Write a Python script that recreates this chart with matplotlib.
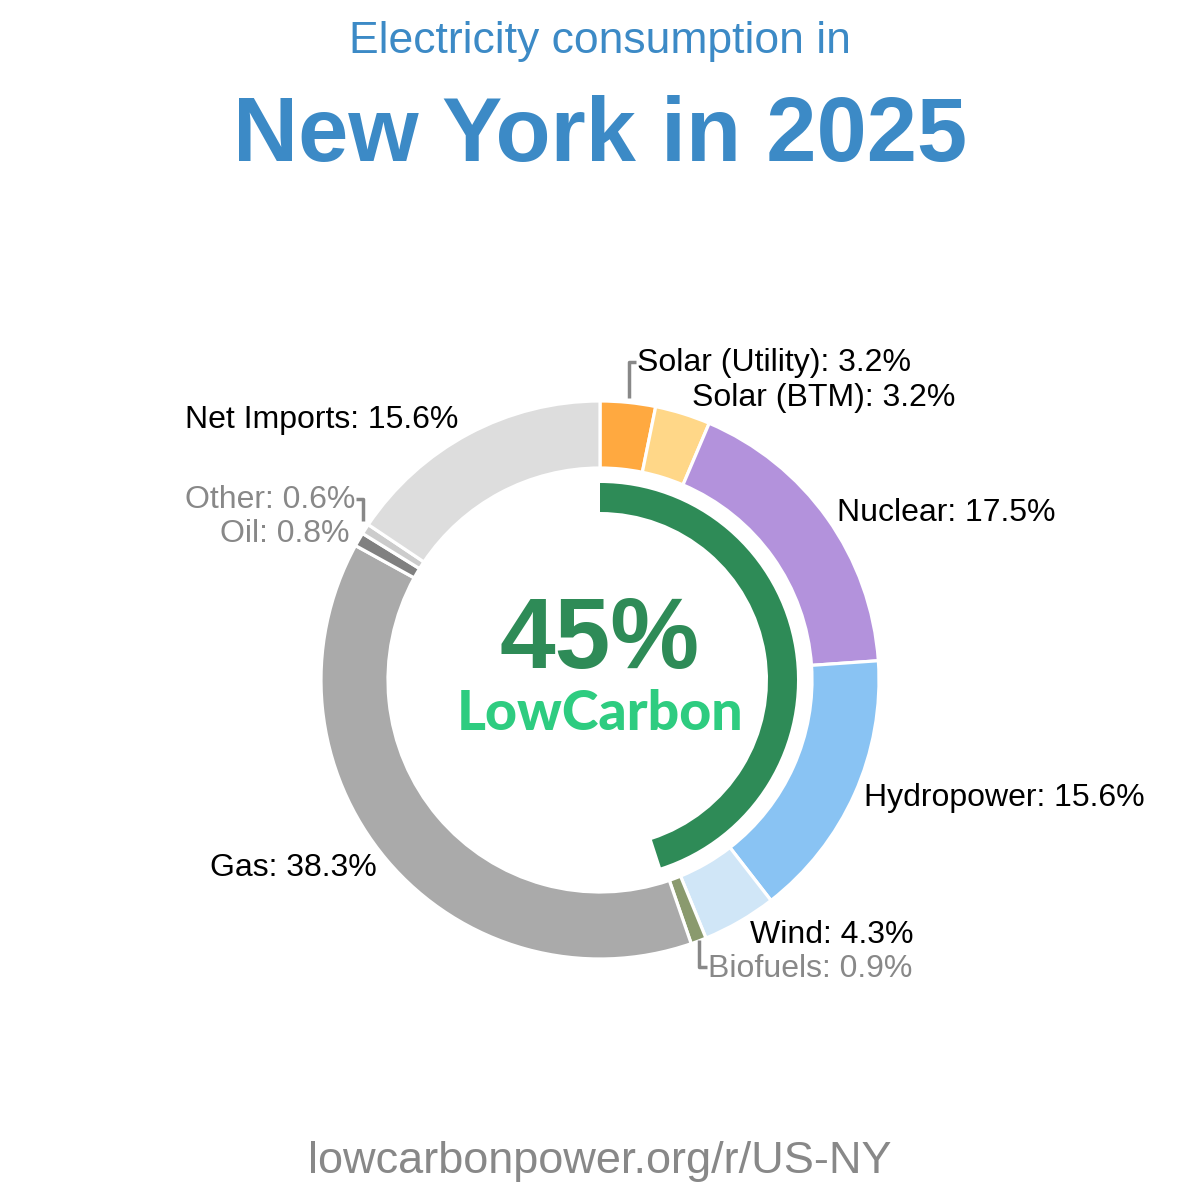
import matplotlib
matplotlib.use("Agg")
import matplotlib.pyplot as plt

# Data (clockwise from 12 o'clock)
sources = ['Solar (Utility)', 'Solar (BTM)', 'Nuclear', 'Hydropower', 'Wind',
           'Biofuels', 'Gas', 'Oil', 'Other', 'Net Imports']
shares = [3.2, 3.2, 17.5, 15.6, 4.3, 0.9, 38.3, 0.8, 0.6, 15.6]
colors = ['#FFA940', '#FFD788', '#B392DC', '#89C3F3', '#D0E6F7',
          '#8A9A6E', '#AAAAAA', '#808080', '#CCCCCC', '#DDDDDD']
low_carbon = 45

# label placement (image pixels, y from top), alignment, colour
label_pos = {
    'Solar (Utility)': (637, 363, 'left', 'black'),
    'Solar (BTM)': (692, 398, 'left', 'black'),
    'Nuclear': (837, 513, 'left', 'black'),
    'Hydropower': (864, 798, 'left', 'black'),
    'Wind': (750, 935, 'left', 'black'),
    'Biofuels': (708, 969, 'left', '#888888'),
    'Gas': (377, 868, 'right', 'black'),
    'Oil': (349, 534, 'right', '#888888'),
    'Other': (355, 500, 'right', '#888888'),
    'Net Imports': (458, 420, 'right', 'black'),
}

plt.rcParams['font.family'] = ['Liberation Sans', 'DejaVu Sans']

fig = plt.figure(figsize=(12, 12), dpi=100)
ax = fig.add_axes([0, 0, 1, 1])

cx, cy = 600, 1200 - 680
R = 279

ax.pie(shares, colors=colors, startangle=90, counterclock=False,
       center=(cx, cy), radius=R,
       wedgeprops=dict(width=67, edgecolor='white', linewidth=2.3))

# inner low-carbon arc
ax.pie([low_carbon, 100 - low_carbon], colors=['#2E8B57', 'none'],
       startangle=90, counterclock=False, center=(cx, cy), radius=197,
       wedgeprops=dict(width=29, linewidth=0))

ax.set_xlim(0, 1200)
ax.set_ylim(0, 1200)
ax.set_aspect('equal')
ax.axis('off')

def Y(y):
    return 1200 - y

for name, val in zip(sources, shares):
    x, y, ha, col = label_pos[name]
    ax.text(x, Y(y), f'{name}: {val}%', fontsize=23, ha=ha, va='center', color=col)

# leader lines
lc = '#888888'
ax.plot([629, 629, 636], [Y(398), Y(362), Y(362)], color=lc, lw=2.5, solid_capstyle='butt')
ax.plot([356, 363, 363], [Y(499), Y(499), Y(521)], color=lc, lw=2.5, solid_capstyle='butt')
ax.plot([699, 699, 707], [Y(940), Y(967), Y(967)], color=lc, lw=2.5, solid_capstyle='butt')

# centre text
ax.text(cx, Y(642), f'{low_carbon}%', fontsize=72, fontweight='bold', color='#2E8B57',
        ha='center', va='center')
ax.text(cx, Y(714), 'LowCarbon', fontsize=40, fontweight='black', color='#2ECC80',
        ha='center', va='center', family=['Lato', 'DejaVu Sans'])

# titles
ax.text(600, Y(42), 'Electricity consumption in', fontsize=32, color='#3C8AC6',
        ha='center', va='center')
ax.text(600, Y(138), 'New York in 2025', fontsize=65, fontweight='bold', color='#3C8AC6',
        ha='center', va='center')
ax.text(600, Y(1161), 'lowcarbonpower.org/r/US-NY', fontsize=32.5, color='#888888',
        ha='center', va='center')

fig.savefig('out.png', dpi=100, facecolor='white')
